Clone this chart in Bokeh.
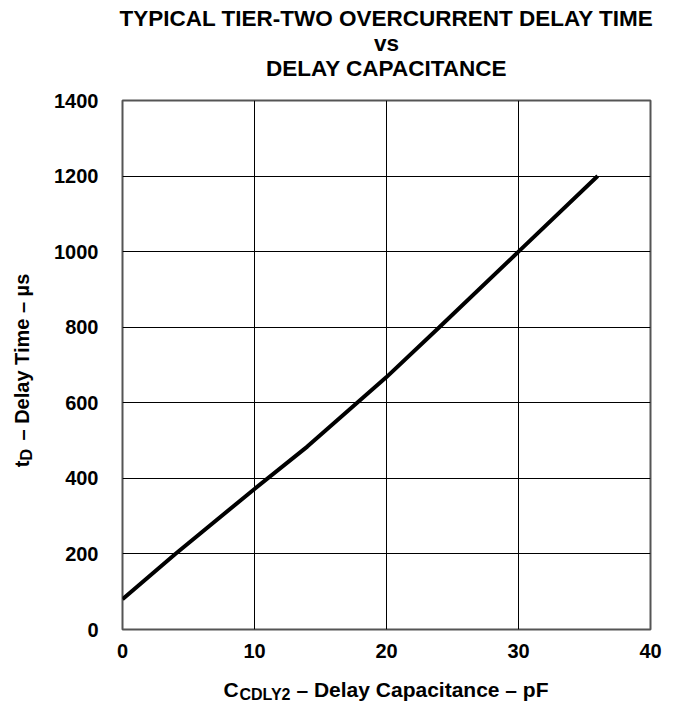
import math
from bokeh.plotting import figure
from bokeh.models import Range1d, Label, FixedTicker
from bokeh.embed import file_html
from bokeh.resources import INLINE

# ---- data ----
cap_pf = [0, 4, 10, 14, 20, 24, 30, 36]
delay_us = [80, 200, 372, 484, 668, 800, 1000, 1200]
x_ticks = [0, 10, 20, 30, 40]
y_ticks = [0, 200, 400, 600, 800, 1000, 1200, 1400]
title_lines = ["TYPICAL TIER-TWO OVERCURRENT DELAY TIME", "vs", "DELAY CAPACITANCE"]
x_label_main, x_label_sub, x_label_rest = "C", "CDLY2", "– Delay Capacitance – pF"
y_label_main, y_label_sub, y_label_rest = "t", "D", "– Delay Time – µs"

FONT = "Liberation Sans"
FRAME_BOTTOM = 629  # px from top of canvas

p = figure(width=670, height=707, x_range=Range1d(0, 40), y_range=Range1d(0, 1400),
           output_backend="svg", toolbar_location=None,
           min_border_left=122, min_border_right=20, min_border_top=100, min_border_bottom=78)

p.background_fill_color = "white"
p.border_fill_color = "white"
p.outline_line_color = "#555555"
p.outline_line_width = 2

p.xgrid.ticker = FixedTicker(ticks=x_ticks)
p.ygrid.ticker = FixedTicker(ticks=y_ticks)
for g in (p.xgrid, p.ygrid):
    g.grid_line_color = "black"
    g.grid_line_width = 1
    g.grid_line_alpha = 1.0

p.xaxis.ticker = FixedTicker(ticks=x_ticks)
p.yaxis.ticker = FixedTicker(ticks=y_ticks)
for ax in (p.xaxis, p.yaxis):
    ax.axis_line_color = None
    ax.major_tick_line_color = None
    ax.minor_tick_line_color = None
    ax.major_tick_out = 0
    ax.major_tick_in = 0
    ax.major_label_text_font = FONT
    ax.major_label_text_font_style = "bold"
    ax.major_label_text_font_size = "20px"
    ax.major_label_text_color = "black"
p.xaxis.major_label_standoff = 14
p.yaxis.major_label_standoff = 24


def add_text(txt, dx, center_y, size, place, angle=0.0, align="left"):
    # anchored at the data origin (frame bottom-left) with pixel offsets;
    # placed in a side panel so that it is not clipped to the frame
    p.add_layout(Label(x=0, y=0, x_units="data", y_units="data",
                       x_offset=dx, y_offset=FRAME_BOTTOM - center_y,
                       text=txt, text_font=FONT, text_font_style="bold",
                       text_font_size=f"{size}px", text_color="black",
                       text_align=align, text_baseline="middle", angle=angle), place)


# title lines, centred over the plot frame
for line, cy in zip(title_lines, [18, 43, 68]):
    add_text(line, 264, cy, 22.5, "above", align="center")

# x axis label with subscript
add_text(x_label_main + "\u2003\u2003\u2002\u2005" + x_label_rest, 101, 689, 21, "below")
add_text(x_label_sub, 117, 694, 16, "above")

# y axis label with subscript (rotated); y given as start of text from top
add_text(y_label_main + "\u2002\u2002" + y_label_rest, -100.5, 466.7, 20, "left", angle=math.pi / 2)
add_text(y_label_sub, -96, 466.7 - 6.7, 16, "left", angle=math.pi / 2)

p.line(cap_pf, delay_us, line_width=4, line_color="black")

open("out.html", "w").write(file_html(p, INLINE))
